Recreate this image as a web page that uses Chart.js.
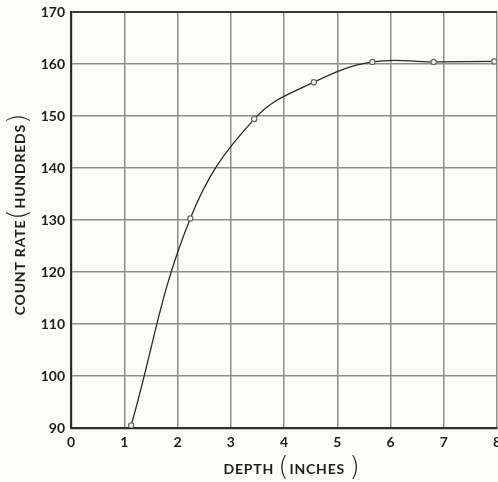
<!DOCTYPE html>
<html>
<head>
<meta charset="utf-8">
<script src="https://cdn.jsdelivr.net/npm/chart.js@4/dist/chart.umd.min.js"></script>
<style>
  html, body { margin: 0; padding: 0; background: #fcfcf8; }
  #wrap { width: 498px; height: 482px; }
</style>
</head>
<body>
<div id="wrap"><canvas id="c" width="498" height="482"></canvas></div>
<script>
// Measured depth (inches) and count rate (hundreds)
const depth = [1.13, 2.24, 3.44, 4.56, 5.66, 6.81, 7.95];
const countRate = [90.5, 130.3, 149.4, 156.5, 160.4, 160.4, 160.5];

// Axis ranges and tick steps
const xTicks = [0, 1, 2, 3, 4, 5, 6, 7, 8];
const yTicks = [90, 100, 110, 120, 130, 140, 150, 160, 170];

const tickFont = { family: "Lato, 'Open Sans', sans-serif", size: 14, weight: 'bold' };

// Axis titles drawn with tall parentheses around the unit
const axisTitles = {
  id: 'axisTitles',
  afterDraw(chart) {
    const ctx = chart.ctx;
    const small = "bold 14px Lato, 'Open Sans', sans-serif";
    const paren = "300 27px 'DejaVu Sans', sans-serif";
    function drawParts(parts, cx, cy) {
      let total = 0;
      ctx.letterSpacing = '0.8px';
      parts.forEach(p => { ctx.font = p.font; p.w = ctx.measureText(p.text).width; total += p.w; });
      let x = cx - total / 2;
      ctx.textBaseline = 'middle';
      ctx.textAlign = 'left';
      parts.forEach(p => {
        ctx.font = p.font;
        ctx.fillText(p.text, x, cy + (p.dy || 0));
        x += p.w;
      });
    }
    ctx.save();
    ctx.fillStyle = '#1e1e1e';
    const xParts = [
      { text: 'DEPTH ', font: small },
      { text: '(', font: paren, dy: -1 },
      { text: 'INCHES ', font: small },
      { text: ')', font: paren, dy: -1 }
    ];
    drawParts(xParts, 292, 469);
    ctx.translate(20, 214);
    ctx.rotate(-Math.PI / 2);
    const yParts = [
      { text: 'COUNT RATE', font: small },
      { text: '(', font: paren, dy: -1 },
      { text: 'HUNDREDS', font: small },
      { text: ')', font: paren, dy: -1 }
    ];
    drawParts(yParts, 0, 0);
    ctx.restore();
  }
};

new Chart(document.getElementById('c'), {
  type: 'line',
  data: {
    datasets: [{
      data: depth.map((d, i) => ({ x: d, y: countRate[i] })),
      borderColor: '#2a2a2a',
      borderWidth: 1.3,
      tension: 0.4,
      pointRadius: 2.6,
      pointBorderWidth: 1.2,
      pointBorderColor: '#6a6a6a',
      pointBackgroundColor: '#f4f4f0',
      fill: false
    }]
  },
  options: {
    responsive: false,
    animation: false,
    devicePixelRatio: 1,
    layout: { autoPadding: false, padding: { top: 12, right: 1, left: 0, bottom: 0 } },
    plugins: { legend: { display: false }, tooltip: { enabled: false } },
    scales: {
      x: {
        type: 'linear',
        min: xTicks[0],
        max: xTicks[xTicks.length - 1],
        afterBuildTicks(s) { s.ticks = xTicks.map(v => ({ value: v })); },
        afterFit(s) { s.height = 54; s.paddingLeft = 0; s.paddingRight = 0; },
        grid: { color: '#8c8c8c', lineWidth: 1.5, drawTicks: false },
        border: { color: '#2e2e2e', width: 2.2 },
        ticks: { color: '#1e1e1e', font: tickFont, padding: 6 }
      },
      y: {
        type: 'linear',
        min: yTicks[0],
        max: yTicks[yTicks.length - 1],
        afterBuildTicks(s) { s.ticks = yTicks.map(v => ({ value: v })); },
        afterFit(s) { s.width = 71; s.paddingTop = 0; s.paddingBottom = 0; },
        grid: { color: (c) => c.tick && c.tick.value === 170 ? '#3a3a3a' : '#8c8c8c', lineWidth: (c) => c.tick && c.tick.value === 170 ? 2 : 1.5, drawTicks: false },
        border: { color: '#2e2e2e', width: 2.2 },
        ticks: { color: '#1e1e1e', font: tickFont, padding: 6 }
      }
    }
  },
  plugins: [axisTitles]
});
</script>
</body>
</html>
